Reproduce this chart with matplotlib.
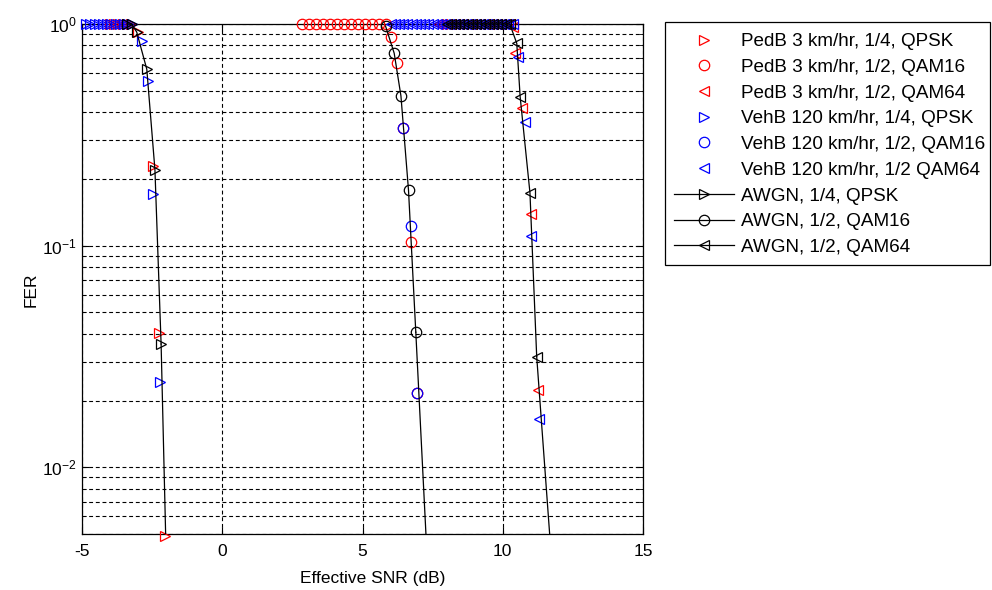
import numpy as np
import matplotlib
matplotlib.use('Agg')
from matplotlib import pyplot as plt
from matplotlib import ticker
from matplotlib.patches import Rectangle

plt.rcParams['font.family'] = ['Liberation Sans', 'DejaVu Sans']
plt.rcParams['mathtext.default'] = 'regular'
plt.rcParams['axes.unicode_minus'] = False

# PedB 3 km/hr
pedb_qpsk_x = [-4.0, -3.85, -3.7, -3.55, -3.4, -3.25, -2.99, -2.46, -2.24, -2.04]
pedb_qpsk_y = [1, 1, 1, 1, 1, 1, 0.925, 0.228, 0.0403, 0.0049]
pedb_16_x = [2.85, 3.1, 3.35, 3.6, 3.85, 4.1, 4.35, 4.6, 4.85, 5.1, 5.35, 5.6, 5.85,
             6.02, 6.22, 6.45, 6.72, 6.93]
pedb_16_y = [1, 1, 1, 1, 1, 1, 1, 1, 1, 1, 1, 1, 1,
             0.877, 0.665, 0.339, 0.1035, 0.0216]
pedb_64_x = [7.7, 7.85, 8.0, 8.15, 8.3, 8.45, 8.6, 8.75, 8.9, 9.05, 9.2, 9.35, 9.5,
             9.65, 9.8, 9.95, 10.1, 10.25, 10.37, 10.44, 10.68, 11.01, 11.25]
pedb_64_y = [1, 1, 1, 1, 1, 1, 1, 1, 1, 1, 1, 1, 1,
             1, 1, 1, 1, 1, 0.97, 0.743, 0.42, 0.139, 0.0223]

# VehB 120 km/hr
vehb_qpsk_x = [-4.85, -4.7, -4.55, -4.4, -4.25, -4.1, -3.95, -3.8, -3.65, -3.5, -3.35,
               -3.2, -2.87, -2.64, -2.46, -2.22]
vehb_qpsk_y = [1, 1, 1, 1, 1, 1, 1, 1, 1, 1, 1,
               1, 0.84, 0.556, 0.171, 0.0242]
vehb_16_x = [6.45, 6.72, 6.93]
vehb_16_y = [0.339, 0.123, 0.0216]
vehb_64_x = [6.0, 6.15, 6.3, 6.45, 6.6, 6.75, 6.9, 7.05, 7.2, 7.35, 7.5, 7.65, 7.8,
             7.95, 8.1, 8.25, 8.4, 8.55, 8.7, 8.85, 9.0, 9.15, 9.3, 9.45, 9.6, 9.75,
             9.9, 10.05, 10.2, 10.35, 10.56, 10.79, 11.01, 11.29]
vehb_64_y = [1, 1, 1, 1, 1, 1, 1, 1, 1, 1, 1, 1, 1,
             1, 1, 1, 1, 1, 1, 1, 1, 1, 1, 1, 1, 1,
             1, 1, 1, 1, 0.713, 0.363, 0.11, 0.0165]

# AWGN (last point of each lies below the axis, only the line reaches it)
awgn_qpsk_x = [-3.4, -3.23, -3.05, -2.69, -2.40, -2.18, -2.0]
awgn_qpsk_y = [1, 1, 0.92, 0.625, 0.22, 0.036, 0.004]
awgn_16_x = [5.82, 6.13, 6.37, 6.64, 6.90, 7.3]
awgn_16_y = [0.98, 0.738, 0.474, 0.178, 0.0407, 0.004]
awgn_64_x = [8.0, 8.15, 8.3, 8.45, 8.6, 8.75, 8.9, 9.05, 9.2, 9.35, 9.5, 9.65, 9.8,
             9.95, 10.1, 10.25, 10.5, 10.62, 10.97, 11.21, 11.8]
awgn_64_y = [1, 1, 1, 1, 1, 1, 1, 1, 1, 1, 1, 1, 1,
             1, 1, 1, 0.818, 0.47, 0.173, 0.0316, 0.003]

labels = ['PedB 3 km/hr, 1/4, QPSK', 'PedB 3 km/hr, 1/2, QAM16', 'PedB 3 km/hr, 1/2, QAM64',
          'VehB 120 km/hr, 1/4, QPSK', 'VehB 120 km/hr, 1/2, QAM16', 'VehB 120 km/hr, 1/2 QAM64',
          'AWGN, 1/4, QPSK', 'AWGN, 1/2, QAM16', 'AWGN, 1/2, QAM64']

fig = plt.figure(figsize=(9.92, 5.90), dpi=100)
ax = fig.add_axes([82 / 992, 1 - 534 / 590, (643 - 82) / 992, (534 - 24) / 590])

ms = 7.5
mk = dict(linestyle='none', markersize=ms, markerfacecolor='none', markeredgewidth=0.9,
          clip_on=False, zorder=3)
handles = []
for xs, ys, m, c in [(pedb_qpsk_x, pedb_qpsk_y, '>', 'red'),
                     (pedb_16_x, pedb_16_y, 'o', 'red'),
                     (pedb_64_x, pedb_64_y, '<', 'red'),
                     (vehb_qpsk_x, vehb_qpsk_y, '>', 'blue'),
                     (vehb_16_x, vehb_16_y, 'o', 'blue'),
                     (vehb_64_x, vehb_64_y, '<', 'blue')]:
    h, = ax.plot(xs, ys, marker=m, color=c, **mk)
    handles.append(h)

for xs, ys, m in [(awgn_qpsk_x, awgn_qpsk_y, '>'),
                  (awgn_16_x, awgn_16_y, 'o'),
                  (awgn_64_x, awgn_64_y, '<')]:
    # tail running out of the bottom of the axes, clipped
    ax.plot(xs[-2:], ys[-2:], color='black', linewidth=0.9, zorder=4)
    h, = ax.plot(xs[:-1], ys[:-1], marker=m, color='black', linewidth=0.9,
                 markersize=ms, markerfacecolor='none', markeredgewidth=0.9,
                 clip_on=False, zorder=4)
    handles.append(h)

ax.set_yscale('log')
ax.set_xlim(-5, 15)
ax.set_ylim(0.005, 1)
ax.set_xticks([-5, 0, 5, 10, 15])
ax.yaxis.set_major_locator(ticker.LogLocator(base=10))
ax.yaxis.set_minor_locator(ticker.LogLocator(base=10, subs=np.arange(2, 10)))
ax.yaxis.set_minor_formatter(ticker.NullFormatter())

dash = (0, (3.5, 2.5))
ax.grid(True, which='major', color='black', linestyle=dash, linewidth=0.8)
ax.grid(True, which='minor', axis='y', color='black', linestyle=dash, linewidth=0.8)
ax.set_axisbelow(True)

ax.tick_params(which='both', direction='in', top=True, right=True, labelsize=12.5)
ax.tick_params(axis='x', pad=7)
ax.tick_params(which='major', length=5)
ax.tick_params(which='minor', length=3)
for s in ax.spines.values():
    s.set_linewidth(0.9)

ax.set_xlabel('Effective SNR (dB)', fontsize=12.5)
ax.xaxis.set_label_coords(0.519, -0.072)
ax.set_ylabel('FER', fontsize=12.5)
ax.yaxis.set_label_coords(-0.078, 0.478)

leg = fig.legend(handles, labels, loc='upper left',
                 bbox_to_anchor=(674 / 992, 1 - 33 / 590),
                 fontsize=13.6, frameon=False,
                 handlelength=3.2, handletextpad=0.35, labelspacing=0.45,
                 borderpad=0, borderaxespad=0)
fig.patches.append(Rectangle((665 / 992, 1 - 265 / 590), (990 - 665) / 992, (265 - 22) / 590,
                             transform=fig.transFigure, fill=False,
                             edgecolor='black', linewidth=0.9))

fig.savefig('out.png', dpi=100, facecolor='white')
